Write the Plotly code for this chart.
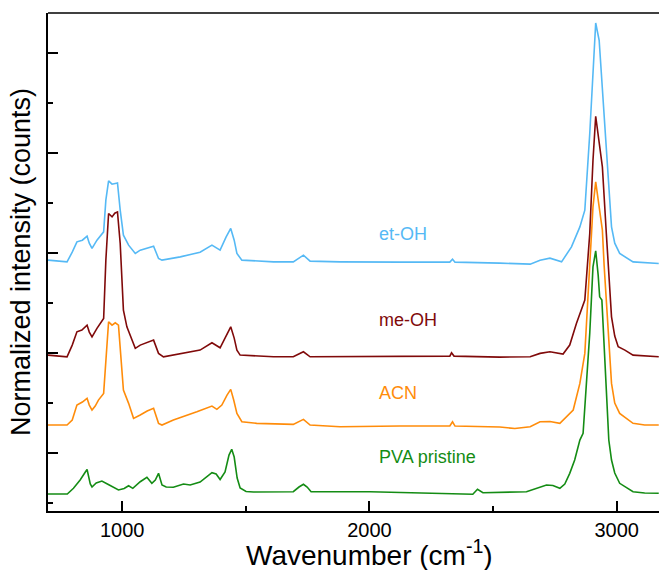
import plotly.graph_objects as go

# Wavenumber (cm-1) / intensity pairs (offset stacked spectra)
pva_x = [700, 778, 803, 830, 851, 858, 871, 878, 895, 918, 944, 985, 1008, 1026, 1043, 1073, 1100, 1120, 1134, 1147,
         1161, 1178, 1207, 1248, 1275, 1315, 1363, 1380, 1396, 1416, 1432, 1443, 1453, 1465, 1477, 1501, 1531, 1692,
         1715, 1733, 1748, 1764, 2002, 2216, 2418, 2437, 2459, 2635, 2689, 2716, 2742, 2770, 2790, 2810, 2830, 2851,
         2864, 2891, 2904, 2915, 2925, 2931, 2940, 2949, 2958, 2968, 2979, 2992, 3012, 3066, 3113, 3170]
pva_y = [0.17, 0.17, 0.227, 0.31, 0.39, 0.415, 0.27, 0.24, 0.28, 0.30, 0.265, 0.21, 0.225, 0.253, 0.227, 0.293, 0.337,
         0.277, 0.31, 0.377, 0.26, 0.24, 0.237, 0.27, 0.26, 0.29, 0.383, 0.37, 0.315, 0.39, 0.56, 0.617, 0.54, 0.33,
         0.23, 0.195, 0.19, 0.193, 0.24, 0.267, 0.24, 0.193, 0.193, 0.177, 0.167, 0.217, 0.183, 0.193, 0.235, 0.26,
         0.255, 0.227, 0.27, 0.377, 0.51, 0.71, 0.777, 1.78, 2.443, 2.603, 2.36, 2.143, 2.11, 1.61, 1.11, 0.71, 0.51,
         0.38, 0.277, 0.193, 0.18, 0.177]

acn_x = [700, 777, 798, 817, 839, 858, 867, 878, 891, 904, 925, 934, 945, 959, 972, 985, 992, 1005, 1026, 1046, 1073,
         1101, 1127, 1147, 1161, 1207, 1302, 1363, 1383, 1403, 1424, 1439, 1451, 1464, 1484, 1544, 1692, 1733, 1760,
         1881, 2123, 2325, 2336, 2346, 2527, 2588, 2650, 2690, 2730, 2770, 2824, 2851, 2871, 2891, 2904, 2915, 2923,
         2931, 2942, 2949, 2958, 2968, 2979, 2992, 3012, 3066, 3113, 3170]
acn_y = [0.86, 0.86, 0.91, 1.06, 1.09, 1.127, 1.06, 1.01, 1.05, 1.11, 1.177, 1.51, 1.893, 1.86, 1.883, 1.86, 1.643,
         1.21, 1.077, 0.927, 0.96, 1.0, 1.027, 0.877, 0.86, 0.91, 0.993, 1.05, 1.017, 1.06, 1.16, 1.217, 1.11, 0.977,
         0.893, 0.877, 0.867, 0.917, 0.86, 0.843, 0.85, 0.85, 0.893, 0.85, 0.84, 0.825, 0.843, 0.893, 0.895, 0.877,
         1.01, 1.277, 1.577, 2.443, 3.043, 3.293, 3.16, 3.043, 2.81, 2.46, 2.11, 1.66, 1.277, 1.08, 0.977, 0.877,
         0.86, 0.86]

meoh_x = [700, 777, 798, 817, 837, 858, 867, 878, 898, 925, 934, 945, 959, 970, 981, 992, 1005, 1019, 1053, 1073, 1127,
          1147, 1167, 1235, 1315, 1363, 1396, 1420, 1439, 1453, 1464, 1477, 1612, 1692, 1733, 1760, 1881, 2123, 2325,
          2332, 2342, 2527, 2650, 2690, 2730, 2783, 2810, 2837, 2855, 2871, 2891, 2904, 2915, 2923, 2931, 2942, 2958,
          2979, 2992, 3006, 3033, 3066, 3170]
meoh_y = [1.56, 1.543, 1.66, 1.793, 1.81, 1.86, 1.79, 1.743, 1.827, 1.927, 2.51, 2.977, 2.943, 2.98, 2.993, 2.677,
          2.01, 1.843, 1.627, 1.66, 1.71, 1.577, 1.543, 1.577, 1.61, 1.683, 1.633, 1.75, 1.843, 1.73, 1.61, 1.56,
          1.543, 1.543, 1.593, 1.543, 1.543, 1.55, 1.55, 1.583, 1.55, 1.54, 1.543, 1.577, 1.593, 1.57, 1.66, 1.877,
          2.01, 2.11, 2.777, 3.51, 3.95, 3.81, 3.677, 3.443, 2.777, 1.943, 1.75, 1.643, 1.61, 1.56, 1.543]

etoh_x = [700, 777, 798, 817, 839, 858, 867, 878, 898, 925, 934, 945, 959, 970, 981, 992, 1005, 1026, 1053, 1073, 1127,
          1147, 1161, 1235, 1315, 1363, 1396, 1420, 1439, 1453, 1464, 1484, 1612, 1692, 1733, 1760, 1881, 2123, 2325,
          2336, 2346, 2527, 2650, 2690, 2730, 2777, 2817, 2851, 2871, 2891, 2904, 2915, 2929, 2938, 2958, 2979, 2992,
          3012, 3066, 3170]
etoh_y = [2.51, 2.493, 2.59, 2.693, 2.71, 2.75, 2.68, 2.627, 2.71, 2.793, 3.11, 3.303, 3.27, 3.28, 3.283, 3.01, 2.76,
          2.66, 2.577, 2.61, 2.65, 2.527, 2.51, 2.543, 2.59, 2.66, 2.61, 2.74, 2.827, 2.71, 2.577, 2.51, 2.493, 2.493,
          2.56, 2.5, 2.493, 2.49, 2.49, 2.52, 2.49, 2.48, 2.47, 2.51, 2.53, 2.493, 2.643, 2.843, 3.01, 3.777, 4.443,
          4.883, 4.71, 4.377, 3.61, 2.843, 2.68, 2.577, 2.493, 2.477]

series_names = ["PVA pristine", "ACN", "me-OH", "et-OH"]
series_colors = ["#148c14", "#ff8c0a", "#800a0a", "#55b9f5"]
label_y = [0.543, 1.185, 1.91, 2.77]
x_ticks = [1000, 2000, 3000]

FONT = "Liberation Sans, Arial"

fig = go.Figure()
for name, xs, ys, col in zip(series_names, [pva_x, acn_x, meoh_x, etoh_x], [pva_y, acn_y, meoh_y, etoh_y],
                             series_colors):
    fig.add_trace(go.Scatter(x=xs, y=ys, mode="lines", name=name, line=dict(color=col, width=1.6)))

for name, ly, col in zip(series_names, label_y, series_colors):
    fig.add_annotation(x=2029, y=ly, xref="x", yref="y", text=name, showarrow=False, xanchor="left",
                       yanchor="middle", font=dict(size=18, color=col, family=FONT))

# x-axis title (centred as in the reference, whose plot extends past the crop)
fig.add_annotation(x=0.527, y=-0.084, xref="paper", yref="paper", text="Wavenumber (cm<sup>-1</sup>)",
                   showarrow=False, xanchor="center", yanchor="middle", borderpad=0,
                   font=dict(size=28, family=FONT))

fig.add_shape(type="line", xref="paper", yref="paper", x0=0, x1=1, y0=1, y1=1, line=dict(color="black", width=1.5))

fig.update_layout(
    width=659, height=570,
    margin=dict(l=48, r=0, t=13, b=59),
    paper_bgcolor="white", plot_bgcolor="white",
    showlegend=False,
    font=dict(family=FONT, color="black"),
    xaxis=dict(range=[700, 3171], tickvals=x_ticks, ticktext=[str(v) for v in x_ticks],
               ticks="inside", ticklen=10, tickwidth=1.5, tickcolor="black",
               showline=True, linecolor="black", linewidth=1.5, showgrid=False, zeroline=False,
               tickfont=dict(size=20),
               minor=dict(ticks="inside", ticklen=5, tickwidth=1.5, tickcolor="black", dtick=500, tick0=1000,
                          showgrid=False)),
    yaxis=dict(range=[0, 4.983], tick0=0.583, dtick=1, showticklabels=False,
               ticks="inside", ticklen=10, tickwidth=1.5, tickcolor="black",
               showline=True, linecolor="black", linewidth=1.5, showgrid=False, zeroline=False,
               minor=dict(ticks="inside", ticklen=5, tickwidth=1.5, tickcolor="black", dtick=0.5, tick0=0.083,
                          showgrid=False),
               title=dict(text="Normalized intensity (counts)", font=dict(size=27), standoff=8)),
)

fig.write_html("out.html")
